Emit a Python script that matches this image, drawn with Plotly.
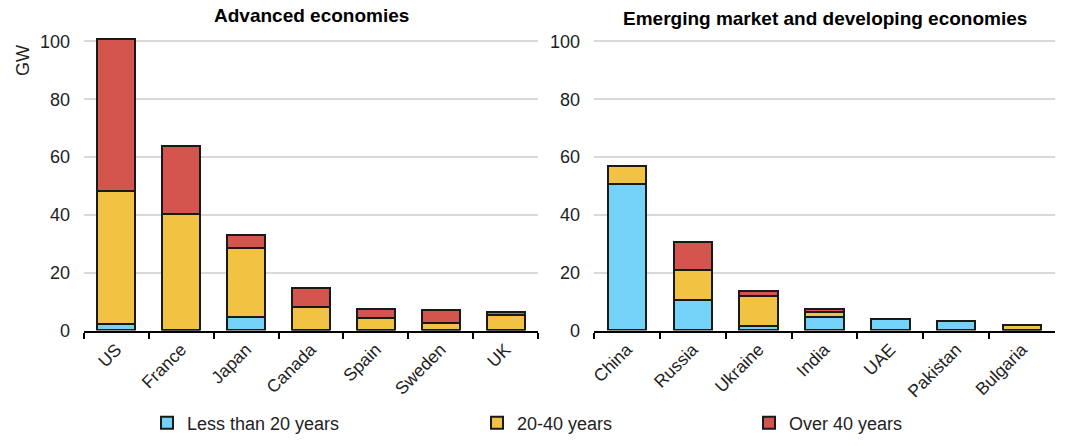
import plotly.graph_objects as go

adv_countries = ["US", "France", "Japan", "Canada", "Spain", "Sweden", "UK"]
adv_lt20 = [2.3, 0, 4.5, 0, 0, 0, 0]
adv_20_40 = [46.0, 40.3, 24.2, 8.3, 4.3, 2.5, 5.3]
adv_gt40 = [52.7, 23.6, 4.3, 6.3, 3.2, 4.5, 1.0]

emd_countries = ["China", "Russia", "Ukraine", "India", "UAE", "Pakistan", "Bulgaria"]
emd_lt20 = [50.6, 10.7, 1.7, 4.6, 4.0, 3.4, 0]
emd_20_40 = [6.3, 10.3, 10.1, 1.8, 0, 0, 2.0]
emd_gt40 = [0, 9.5, 2.0, 0.9, 0, 0, 0]

series_names = ["Less than 20 years", "20-40 years", "Over 40 years"]
colors = ["#74D2F8", "#F2C243", "#D4554D"]

FONT = "Liberation Sans, Arial, sans-serif"

W, H = 1080, 446


def fx(p):
    return p / W


def fy(p):
    return 1 - p / H


fig = go.Figure()
adv_vals = [adv_lt20, adv_20_40, adv_gt40]
emd_vals = [emd_lt20, emd_20_40, emd_gt40]
legends = ["legend", "legend2", "legend3"]
for i, name in enumerate(series_names):
    fig.add_trace(go.Bar(
        x=adv_countries, y=adv_vals[i], name=name,
        marker=dict(color=colors[i], line=dict(color="#1a1a1a", width=2)),
        xaxis="x", yaxis="y", legend=legends[i], showlegend=True,
    ))
    fig.add_trace(go.Bar(
        x=emd_countries, y=emd_vals[i], name=name,
        marker=dict(color=colors[i], line=dict(color="#1a1a1a", width=2)),
        xaxis="x2", yaxis="y2", showlegend=False,
    ))

ydom = [fy(330.5), fy(35.7)]
xaxis_common = dict(
    type="category", showline=True, linecolor="#000000", linewidth=2,
    ticks="outside", tickson="boundaries", ticklen=6, tickwidth=2, tickcolor="#000000",
    tickangle=-45, tickfont=dict(family=FONT, size=17.5, color="#222222"),
    showgrid=False, zeroline=False, fixedrange=True, automargin=False,
)
yaxis_common = dict(
    range=[0, 102], dtick=20, showgrid=True, gridcolor="#D9D9D9", gridwidth=2,
    zeroline=False, showline=False, ticks="", ticklabelstandoff=13, automargin=False,
    tickfont=dict(family=FONT, size=18, color="#222222"), domain=ydom, fixedrange=True,
)

leg_common = dict(
    orientation="h", yanchor="middle", y=fy(423), xanchor="left",
    font=dict(family=FONT, size=18, color="#222222"), bgcolor="rgba(0,0,0,0)",
    itemwidth=30,
)

fig.update_layout(
    width=W, height=H,
    margin=dict(l=0, r=0, t=0, b=0, autoexpand=False),
    paper_bgcolor="white", plot_bgcolor="white",
    barmode="stack", bargap=0.415,
    font=dict(family=FONT, size=18, color="#222222"),
    xaxis=dict(domain=[fx(84), fx(538)], anchor="y", **xaxis_common),
    yaxis=dict(anchor="x", **yaxis_common),
    xaxis2=dict(domain=[fx(594), fx(1055)], anchor="y2", **xaxis_common),
    yaxis2=dict(anchor="x2", **yaxis_common),
    legend=dict(x=fx(147), **leg_common),
    legend2=dict(x=fx(477), **leg_common),
    legend3=dict(x=fx(749), **leg_common),
    annotations=[
        dict(text="<b>Advanced economies</b>", x=fx(311), y=fy(16),
             xref="paper", yref="paper", showarrow=False,
             font=dict(family=FONT, size=19, color="#000000"), xanchor="center", yanchor="middle"),
        dict(text="<b>Emerging market and developing economies</b>", x=fx(825),
             y=fy(18), xref="paper", yref="paper", showarrow=False,
             font=dict(family=FONT, size=19, color="#000000"), xanchor="center", yanchor="middle"),
        dict(text="GW", x=fx(23), y=fy(61), xref="paper", yref="paper",
             showarrow=False, textangle=-90,
             font=dict(family=FONT, size=18, color="#222222"), xanchor="center", yanchor="middle"),
    ],
)

fig.write_html(
    "out.html",
    config={"displayModeBar": False},
    post_script="document.body.style.margin='0';document.body.style.overflow='hidden';",
)
